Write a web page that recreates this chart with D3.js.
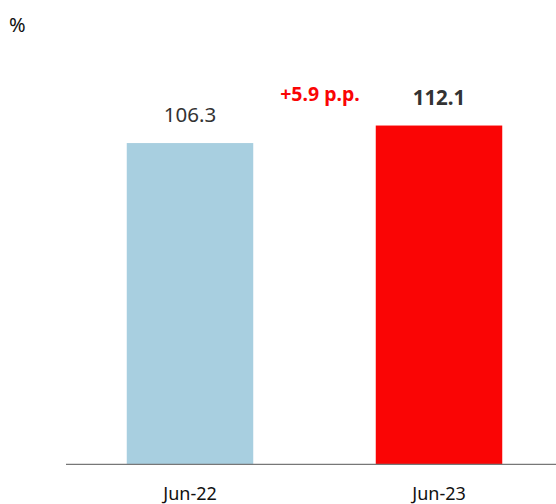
<!DOCTYPE html>
<html><head><meta charset="utf-8">
<script src="https://cdn.jsdelivr.net/npm/d3@7"></script>
<style>body{margin:0;background:#fff}svg{display:block;font-family:"Noto Sans",sans-serif}</style>
</head><body><svg id="c" width="556" height="504"></svg>
<script>
const categories = ["Jun-22", "Jun-23"];
const values = [106.3, 112.1];
const valueLabels = ["106.3", "112.1"];
const colors = ["#a8cfe0", "#fa0505"];
const deltaLabel = "+5.9 p.p.";
const unitLabel = "%";

const svg = d3.select("#c");
const x = d3.scaleBand().domain(categories).range([65.5, 563.5]).paddingInner(0.492).paddingOuter(0.246);
const y = d3.scaleLinear().domain([0, 150]).range([464.3, 11]);

svg.selectAll("rect.bar").data(values).join("rect")
  .attr("class","bar")
  .attr("x",(d,i)=>x(categories[i]))
  .attr("width",x.bandwidth())
  .attr("y",d=>y(d))
  .attr("height",d=>y(0)-y(d))
  .attr("fill",(d,i)=>colors[i]);

svg.append("line").attr("x1",66).attr("x2",556).attr("y1",y(0)).attr("y2",y(0))
  .attr("stroke","#777").attr("stroke-width",1.3);

const ax = svg.append("g").attr("transform",`translate(0,${y(0)})`)
  .call(d3.axisBottom(x).tickSize(0).tickPadding(23));
ax.select(".domain").remove();
ax.selectAll("text").attr("font-size",18).attr("fill","#111").attr("font-family","Noto Sans, sans-serif");

svg.selectAll("text.val").data(values).join("text")
  .attr("class","val")
  .attr("x",(d,i)=>x(categories[i])+x.bandwidth()/2)
  .attr("y",d=>y(d)-21)
  .attr("text-anchor","middle")
  .attr("font-size",20.5)
  .attr("font-weight",(d,i)=>i===1?"bold":"normal")
  .attr("fill","#333")
  .text((d,i)=>valueLabels[i]);

svg.append("text").attr("x",320).attr("y",101).attr("text-anchor","middle")
  .attr("font-size",19.5).attr("font-weight","bold").attr("fill","#fa0505").text(deltaLabel);

svg.append("text").attr("x",9).attr("y",32).attr("font-size",20).attr("fill","#111").text(unitLabel);
</script></body></html>
